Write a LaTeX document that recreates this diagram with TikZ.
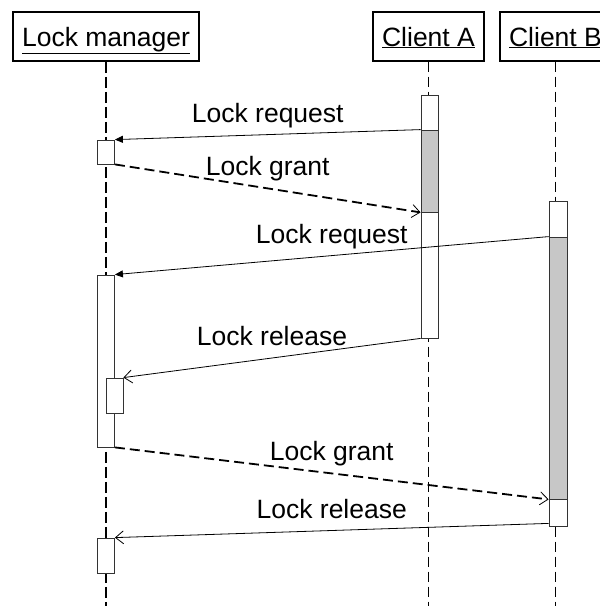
\documentclass[tikz,border=0pt]{standalone}
\usepackage{fontspec}
\setmainfont{Liberation Sans}
\usetikzlibrary{positioning}
\usetikzlibrary{arrows.meta}

\begin{document}
\begin{tikzpicture}[x=1pt, y=-1pt, font=\fontsize{26.5}{30}\selectfont,
        actor/.style={draw, line width=1.2pt, inner sep=0pt, minimum height=49pt, text height=19pt, text depth=0pt},
        life/.style={line width=1.2pt, dash pattern=on 10pt off 5pt},
        act/.style={draw=black!80, fill=white, line width=0.8pt, inner sep=0pt, minimum width=17pt},
        busy/.style={act, fill=black!22},
        msg/.style={line width=0.8pt, -{Triangle[length=8pt,width=7pt]}},
        reply/.style={line width=0.8pt, -{Straight Barb[length=8pt,width=13pt,line width=0.8pt]}},
        grant/.style={reply, line width=1.8pt, dash pattern=on 10pt off 5pt},
        lbl/.style={above, inner sep=6pt, text height=19pt, text depth=5.8pt}]
        \useasboundingbox (0,0) rectangle (600,606);
        \clip (0,0) rectangle (600,606);

        \node[actor, line width=1.6pt, minimum width=186pt] (lm) at (106,36.5) {\underline{Lock manager}};
        \node[actor, minimum width=111pt] (ca) at (428.5,36.5) {\underline{Client A}};
        \node[actor, minimum width=111pt] (cb) at (555.5,36.5) {\underline{Client B}};

        \coordinate (lmend) at (106,606);
        \coordinate (caend) at (428.5,606);
        \coordinate (cbend) at (555.5,606);

        \draw[life, line width=2.2pt, dash pattern=on 11pt off 4pt] (lm.south) -- (lmend);
        \draw[life] (ca.south) -- (caend);
        \draw[life] (cb.south) -- (cbend);

        \node[act, minimum height=24pt] (lm1) at (106,152) {};
        \node[act, minimum height=172pt] (lm2) at (106,361) {};
        \node[act, minimum height=35pt] (lm2b) at (114.5,395.5) {};
        \node[act, minimum height=35pt] (lm3) at (106,555.5) {};
        \node[act, minimum height=243pt] (caact) at (429.5,216.5) {};
        \node[busy, minimum height=82pt] (cagrey) at (429.5,171) {};
        \node[act, minimum width=18pt, minimum height=325pt] (cbact) at (558,363.5) {};
        \node[busy, minimum width=18pt, minimum height=262pt] (cbgrey) at (558,368) {};

        \draw[msg] (cagrey.north west) -- node[lbl] {Lock request} (lm1.north east);
        \draw[grant] (lm1.south east) -- node[lbl] {Lock grant} (cagrey.south west);
        \draw[msg] (cbgrey.north west) -- node[lbl] {Lock request} (lm2.north east);
        \draw[reply] (caact.south west) -- node[lbl] {Lock release} (lm2b.north east);
        \draw[grant] (lm2.south east) -- node[lbl] {Lock grant} (cbgrey.south west);
        \draw[reply] ([yshift=3pt]cbact.south west) -- node[lbl] {Lock release} (lm3.north east);
    \end{tikzpicture}
\end{document}
